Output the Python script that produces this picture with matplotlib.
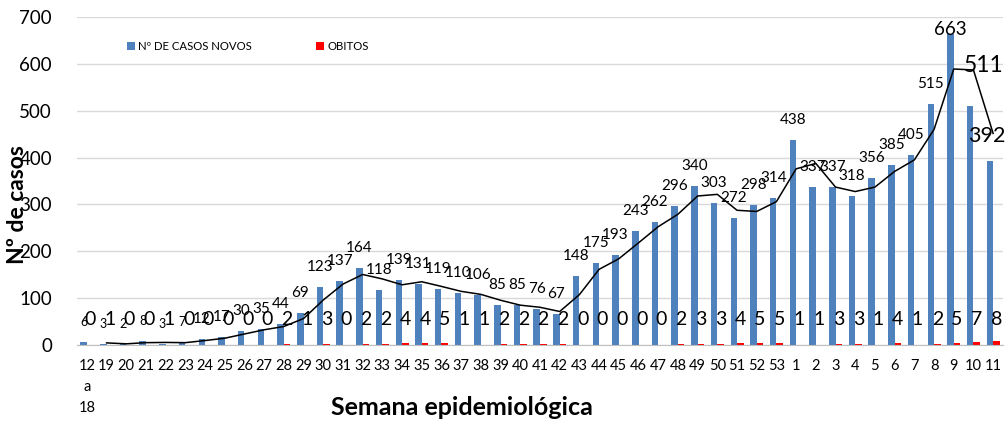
import matplotlib
matplotlib.use("Agg")
import matplotlib.pyplot as plt
import numpy as np
import pandas as pd

plt.rcParams['font.family'] = ['Lato', 'DejaVu Sans']

weeks = ["12\na\n18"] + [str(w) for w in range(19, 54)] + [str(w) for w in range(1, 12)]
casos = [6, 3, 2, 8, 3, 7, 12, 17, 30, 35, 44, 69, 123, 137, 164, 118, 139, 131, 119, 110,
         106, 85, 85, 76, 67, 148, 175, 193, 243, 262, 296, 340, 303, 272, 298, 314,
         438, 337, 337, 318, 356, 385, 405, 515, 663, 511, 392]
obitos = [0, 1, 0, 0, 1, 0, 0, 0, 0, 0, 2, 1, 3, 0, 2, 2, 4, 4, 5, 1,
          1, 2, 2, 2, 2, 0, 0, 0, 0, 0, 2, 3, 3, 4, 5, 5,
          1, 1, 3, 3, 1, 4, 1, 2, 5, 7, 8]

W, H = 1006, 423
fig = plt.figure(figsize=(W / 100, H / 100), dpi=100)
ax = fig.add_axes([77 / W, 1 - 345 / H, (1003 - 77) / W, (345 - 17) / H])

x = np.arange(len(weeks))
bw = 0.33
blue = '#4F81BD'
red = '#FF0000'
ax.bar(x - bw / 2, casos, width=bw, color=blue, label='Nº DE CASOS NOVOS', zorder=2)
ax.bar(x + bw / 2, obitos, width=bw, color=red, label='OBITOS', zorder=2)

ma = pd.Series(casos).rolling(2).mean()
ax.plot(x, ma, color='black', lw=1.1, zorder=3)

ax.set_xlim(-0.5, len(weeks) - 0.5)
ax.set_ylim(0, 700)
ax.set_yticks(range(0, 701, 100))
ax.grid(axis='y', color='#D9D9D9', lw=1, zorder=0)
ax.set_axisbelow(True)
for s in ['top', 'right', 'left']:
    ax.spines[s].set_visible(False)
ax.spines['bottom'].set_color('#BFBFBF')
ax.tick_params(axis='y', length=0, pad=18, labelsize=13.5)
ax.tick_params(axis='x', length=0, pad=10, labelsize=10.5)
ax.set_xticks(x)
ax.set_xticklabels(weeks)
for lab in ax.get_xticklabels():
    lab.set_linespacing(1.65)

# case labels
special = {44: ((0, 3.6), 13.5), 45: ((9.5, 29), 16.5), 46: ((-2, 18), 15.5)}
for i, v in enumerate(casos):
    if i in special:
        off, fs = special[i]
    elif v < 10:
        off, fs = (0, 14.4), 9
    else:
        off, fs = (0, 14.4), 11
    ax.annotate(str(v), (x[i] - bw / 2, v), xytext=off, textcoords='offset points',
                ha='center', va='center', fontsize=fs, zorder=4)

# death labels
for i, v in enumerate(obitos):
    ax.text(x[i] + bw / 2, 54, str(v), ha='center', va='center', fontsize=14, zorder=4)

ax.legend(loc='upper left', bbox_to_anchor=(121 / W, 1 - 35 / H), bbox_transform=fig.transFigure,
          ncol=2, frameon=False, fontsize=8.2, handlelength=0.7, handleheight=0.7,
          handletextpad=0.3, columnspacing=5.6, borderpad=0)

fig.text(462 / W, 1 - 407 / H, 'Semana epidemiológica', ha='center', va='center',
         fontsize=18, fontweight='bold')
fig.text(18 / W, 1 - 205 / H, 'Nº de casos', ha='center', va='center', rotation=90,
         fontsize=16.5, fontweight='bold')

fig.savefig('out.png', dpi=100)
